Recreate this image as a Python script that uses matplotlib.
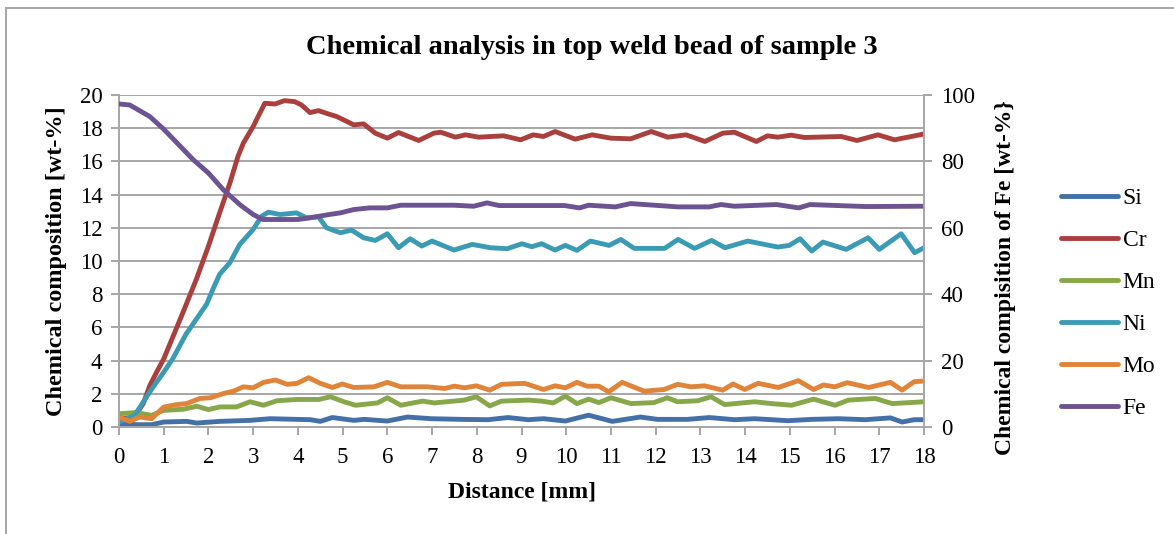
import matplotlib
matplotlib.use("Agg")
import matplotlib.pyplot as plt
from matplotlib.lines import Line2D

plt.rcParams['font.family'] = ['Liberation Serif', 'DejaVu Serif']

# ---- data (distance in mm, values in wt-%) ----
si_x = [0, 0.39, 0.73, 1.0, 1.51, 1.74, 2.26, 2.93, 3.38, 3.98, 4.28, 4.5, 4.77, 5.25, 5.48, 6.0, 6.45, 6.98,
        7.65, 8.25, 8.7, 9.15, 9.49, 9.98, 10.5, 11.03, 11.66, 12.04, 12.71, 13.2, 13.76, 14.21, 14.96, 15.49,
        16.09, 16.69, 17.25, 17.51, 17.78, 18.0]
si_y = [0.2, 0.14, 0.14, 0.3, 0.34, 0.24, 0.34, 0.4, 0.5, 0.46, 0.44, 0.34, 0.57, 0.4, 0.46, 0.36, 0.6, 0.5,
        0.46, 0.44, 0.57, 0.44, 0.5, 0.36, 0.71, 0.34, 0.6, 0.46, 0.46, 0.57, 0.44, 0.5, 0.38, 0.46,
        0.5, 0.44, 0.55, 0.3, 0.44, 0.44]

cr_x = [0, 0.24, 0.39, 0.54, 0.69, 0.84, 1.0, 1.2, 1.43, 1.73, 2.0, 2.25, 2.48, 2.66, 2.78, 3.0, 3.11, 3.26,
        3.49, 3.7, 3.93, 4.08, 4.27, 4.46, 4.68, 4.87, 5.25, 5.47, 5.73, 6.0, 6.25, 6.7, 7.04, 7.19, 7.52,
        7.75, 8.04, 8.6, 8.98, 9.26, 9.49, 9.75, 10.2, 10.58, 11.0, 11.44, 11.9, 12.27, 12.68, 13.1, 13.5,
        13.76, 14.25, 14.5, 14.73, 15.03, 15.33, 16.15, 16.5, 16.97, 17.34, 18.0]
cr_y = [0.5, 0.55, 0.8, 1.4, 2.5, 3.3, 4.1, 5.4, 6.9, 8.9, 10.9, 12.9, 14.7, 16.3, 17.1, 18.1, 18.7, 19.5,
        19.46, 19.66, 19.6, 19.4, 18.94, 19.06, 18.86, 18.7, 18.2, 18.26, 17.7, 17.4, 17.74, 17.26, 17.7, 17.76, 17.46,
        17.6, 17.46, 17.54, 17.3, 17.6, 17.5, 17.8, 17.34, 17.6, 17.4, 17.36, 17.8, 17.46, 17.6, 17.2, 17.7,
        17.76, 17.2, 17.54, 17.46, 17.58, 17.44, 17.5, 17.26, 17.6, 17.3, 17.65]

mn_x = [0, 0.39, 0.73, 1.0, 1.44, 1.74, 2.0, 2.26, 2.63, 2.93, 3.23, 3.53, 3.98, 4.47, 4.73, 5.03, 5.29, 5.78,
        6.0, 6.3, 6.79, 7.05, 7.72, 7.99, 8.29, 8.55, 9.15, 9.45, 9.71, 9.98, 10.24, 10.5, 10.73, 11.0, 11.45,
        11.96, 12.26, 12.49, 12.94, 13.24, 13.54, 14.21, 14.59, 15.04, 15.53, 16.01, 16.31, 16.91, 17.29, 18.0]
mn_y = [0.8, 0.87, 0.7, 1.0, 1.07, 1.25, 1.05, 1.21, 1.21, 1.52, 1.31, 1.58, 1.66, 1.66, 1.82, 1.52, 1.31, 1.45,
        1.76, 1.31, 1.56, 1.45, 1.62, 1.82, 1.27, 1.56, 1.62, 1.56, 1.45, 1.86, 1.41, 1.68, 1.47, 1.76, 1.41,
        1.47, 1.76, 1.52, 1.58, 1.82, 1.35, 1.52, 1.41, 1.31, 1.68, 1.31, 1.62, 1.72, 1.41, 1.52]

ni_x = [0, 0.35, 0.54, 0.76, 1.0, 1.2, 1.5, 1.73, 1.96, 2.1, 2.25, 2.48, 2.7, 3.0, 3.19, 3.34, 3.6, 3.97, 4.19,
        4.46, 4.64, 4.95, 5.2, 5.47, 5.73, 6.0, 6.25, 6.51, 6.77, 7.0, 7.49, 7.9, 8.3, 8.68, 9.01, 9.23, 9.45,
        9.75, 9.98, 10.24, 10.54, 10.96, 11.22, 11.52, 12.2, 12.5, 12.87, 13.25, 13.55, 14.06, 14.73, 14.99,
        15.23, 15.49, 15.74, 16.26, 16.75, 17.0, 17.49, 17.79, 18.0]
ni_y = [0.3, 0.7, 1.5, 2.4, 3.3, 4.1, 5.6, 6.5, 7.4, 8.3, 9.2, 9.9, 11.0, 11.9, 12.7, 12.94, 12.8, 12.9, 12.6,
        12.66, 12.0, 11.7, 11.86, 11.4, 11.24, 11.64, 10.8, 11.34, 10.9, 11.2, 10.66, 11.0, 10.8, 10.74, 11.04, 10.86, 11.04,
        10.66, 10.94, 10.64, 11.2, 10.94, 11.3, 10.76, 10.76, 11.3, 10.76, 11.24, 10.8, 11.2, 10.84, 10.94,
        11.34, 10.6, 11.14, 10.7, 11.4, 10.7, 11.64, 10.5, 10.8]

mo_x = [0, 0.24, 0.46, 0.73, 1.0, 1.29, 1.51, 1.81, 2.04, 2.34, 2.56, 2.78, 3.0, 3.23, 3.5, 3.76, 3.98, 4.24,
        4.5, 4.77, 4.99, 5.25, 5.7, 6.0, 6.3, 6.9, 7.28, 7.5, 7.72, 7.99, 8.29, 8.55, 9.07, 9.49, 9.75, 9.98,
        10.24, 10.46, 10.73, 10.95, 11.25, 11.74, 12.19, 12.49, 12.79, 13.09, 13.5, 13.73, 13.99, 14.29, 14.74,
        15.19, 15.53, 15.75, 16.01, 16.28, 16.76, 17.25, 17.51, 17.78, 18.0]
mo_y = [0.6, 0.34, 0.6, 0.5, 1.2, 1.35, 1.41, 1.72, 1.76, 2.02, 2.16, 2.42, 2.36, 2.69, 2.83, 2.57, 2.63, 2.97,
        2.63, 2.38, 2.59, 2.38, 2.42, 2.69, 2.42, 2.42, 2.32, 2.46, 2.36, 2.48, 2.22, 2.57, 2.63, 2.26, 2.48, 2.36,
        2.69, 2.46, 2.46, 2.12, 2.69, 2.16, 2.26, 2.57, 2.42, 2.48, 2.22, 2.59, 2.26, 2.63, 2.38,
        2.79, 2.26, 2.53, 2.42, 2.67, 2.38, 2.69, 2.22, 2.73, 2.77]

fe_x = [0, 0.24, 0.69, 1.0, 1.66, 2.0, 2.33, 2.7, 3.0, 3.22, 3.5, 4.0, 4.27, 4.7, 4.95, 5.25, 5.6, 6.0, 6.3,
        6.74, 7.5, 7.93, 8.23, 8.5, 9.2, 9.96, 10.3, 10.5, 11.1, 11.44, 12.5, 13.2, 13.46, 13.76, 14.7, 15.2,
        15.45, 16.7, 18.0]
fe_y = [97.3, 97.0, 93.5, 89.7, 80.5, 76.5, 71.5, 67.0, 64.0, 62.5, 62.5, 62.5, 63.0, 64.0, 64.5, 65.5, 66.0, 66.0, 66.8,
        66.8, 66.8, 66.5, 67.5, 66.7, 66.7, 66.7, 66.0, 66.8, 66.3, 67.3, 66.3, 66.3, 67.0, 66.5, 67.0, 66.0,
        67.0, 66.4, 66.5]

series = [("Si", si_x, si_y, "#4470A6"), ("Cr", cr_x, cr_y, "#A9403D"), ("Mn", mn_x, mn_y, "#88A64A"),
          ("Ni", ni_x, ni_y, "#3C9BB4"), ("Mo", mo_x, mo_y, "#E0843A")]
fe_color = "#6C5391"

x_ticks = list(range(0, 19))
left_ticks = list(range(0, 21, 2))
right_ticks = list(range(0, 101, 20))

grid_c = "#A6A6A6"
W, H = 1174, 534
fig = plt.figure(figsize=(W / 100, H / 100), dpi=100)
ax = fig.add_axes([119 / W, 1 - 427 / H, (924 - 119) / W, (427 - 95) / H])
ax2 = ax.twinx()

lw = 3.5
handles = []
for name, xs, ys, c in series:
    h, = ax.plot(xs, ys, color=c, lw=lw, solid_joinstyle='round', solid_capstyle='round', label=name)
    handles.append(h)
hfe, = ax2.plot(fe_x, fe_y, color=fe_color, lw=lw, solid_joinstyle='round', solid_capstyle='round', label="Fe")
handles.append(hfe)

ax.set_xlim(0, 18)
ax.set_ylim(0, 20)
ax2.set_ylim(0, 100)
ax.set_xticks(x_ticks)
ax.set_yticks(left_ticks)
ax2.set_yticks(right_ticks)
ax.yaxis.grid(True, color=grid_c, lw=1.4)
ax.set_axisbelow(True)

for a in (ax, ax2):
    for s in a.spines.values():
        s.set_visible(False)
ax.spines['left'].set_visible(True)
ax.spines['bottom'].set_visible(True)
ax2.spines['right'].set_visible(True)
for s in (ax.spines['left'], ax.spines['bottom'], ax2.spines['right']):
    s.set_color(grid_c)
    s.set_linewidth(1.4)

tfs = 16.5
ax.tick_params(axis='y', direction='out', length=6, width=1.4, color=grid_c, labelsize=tfs, pad=6)
ax.tick_params(axis='x', direction='out', length=6, width=1.4, color=grid_c, labelsize=tfs, pad=8.5)
ax2.tick_params(axis='y', direction='out', length=6, width=1.4, color=grid_c, labelsize=tfs, pad=6)

ax.set_xlabel("Distance [mm]", fontsize=17, fontweight='bold')
ax.xaxis.set_label_coords(0.5, (427 - 492) / 332, transform=ax.transAxes)
ax.xaxis.label.set_va('center')
ax.set_ylabel("Chemical composition [wt-%]", fontsize=17.5, fontweight='bold')
ax.yaxis.set_label_coords((57 - 119) / 805, 0.5)
ax.yaxis.label.set_va('center')
ax2.set_ylabel("Chemical compisition of Fe [wt-%}", fontsize=17, fontweight='bold')
ax2.yaxis.set_label_coords((1005 - 119) / 805, (427 - 278) / 332)
ax2.yaxis.label.set_va('center')

fig.text(592 / W, 1 - 47 / H, "Chemical analysis in top weld bead of sample 3", ha='center', va='center',
         fontsize=20.5, fontweight='bold')

leg = fig.legend(handles=handles, loc='upper left', bbox_to_anchor=(1052 / W, 1 - 178 / H),
                 frameon=False, fontsize=17, handlelength=2.4, handletextpad=0.2, labelspacing=0.87,
                 borderaxespad=0)

# outer chart border (left and top visible)
fig.add_artist(Line2D([5.5 / W, 5.5 / W], [0, 1 - 8 / H], color="#A6A6A6", lw=1.4, transform=fig.transFigure))
fig.add_artist(Line2D([5.5 / W, 1], [1 - 8 / H, 1 - 8 / H], color="#A6A6A6", lw=1.4, transform=fig.transFigure))

fig.savefig("out.png", dpi=100)
